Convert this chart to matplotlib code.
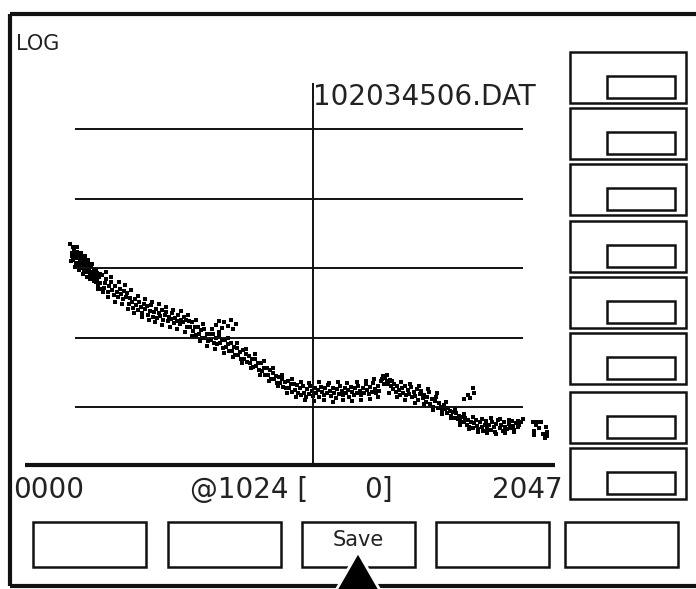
import matplotlib
matplotlib.use('Agg')
import matplotlib.pyplot as plt
from matplotlib.patches import Rectangle, Polygon

# spectrum: channel number and log10(counts)
kanal = [
    0, 8, 10, 12, 16, 18, 20, 24, 26, 28, 32, 34, 36, 40, 42, 44, 48, 50, 52, 56,
    58, 60, 64, 66, 68, 72, 74, 76, 80, 82, 84, 88, 90, 92, 96, 98, 100, 104, 108, 112,
    116, 120, 124, 128, 132,
    136, 142, 147, 153, 160, 166, 171, 178, 184, 190, 197, 203, 209, 216, 222, 229, 235, 241,
    248, 254, 260, 266, 273, 279, 285, 292, 298, 304, 311, 317, 323, 330, 336, 342, 349, 355,
    361, 368, 374, 380, 387, 393, 399, 406, 412, 418, 425, 431, 437, 444, 450, 456, 463, 469,
    475, 482,
    488, 494, 501, 507, 513, 520, 526, 532, 539, 545, 551, 558, 564, 570, 577, 583, 589, 596,
    602, 608, 615, 621, 627, 634, 640, 646, 653, 659, 665, 672, 678, 684, 691, 697, 703, 710,
    716, 722, 729, 735, 741, 748, 754, 760, 767, 773, 779, 786, 792, 798, 805, 811, 817, 824,
    830, 836, 843, 849, 855, 862, 868, 874, 881, 887, 893, 900, 906, 912, 919, 925, 931, 938,
    944, 950, 957, 963,
    615, 628, 640, 652, 665, 678, 690, 700,
    970, 976, 983, 989, 995, 1002, 1008, 1014, 1021, 1027, 1033, 1040, 1046, 1052, 1059, 1065,
    1071, 1078, 1084, 1090, 1097, 1103, 1109, 1116, 1122, 1128, 1135, 1141, 1147, 1154, 1160,
    1166, 1173, 1179, 1185, 1192, 1198, 1204, 1211, 1217, 1223, 1230, 1236, 1242, 1249, 1255,
    1261, 1268, 1274, 1280, 1287, 1293, 1299, 1306, 1312, 1318, 1325, 1331, 1337, 1344, 1350,
    1356,
    1363, 1369, 1375, 1382, 1388, 1394, 1401, 1407, 1413, 1420, 1426, 1432, 1439, 1445, 1451,
    1458, 1464, 1470, 1477, 1483, 1489, 1496, 1502, 1508, 1515, 1521, 1527, 1534, 1540, 1546,
    1553, 1559, 1565, 1572, 1578, 1584, 1591, 1597,
    1665, 1678, 1690, 1702, 1706,
    1604, 1610, 1617, 1623, 1629, 1636, 1642, 1648, 1655, 1661, 1667, 1674, 1680, 1686, 1693,
    1699, 1705, 1712, 1718, 1724, 1731, 1737, 1743, 1750, 1756, 1762, 1769, 1775, 1781, 1788,
    1794, 1800, 1807, 1813, 1819, 1826, 1832, 1838, 1845, 1851, 1857, 1864, 1870, 1876, 1883,
    1889, 1895, 1902, 1910,
    1954, 1958, 1960, 1966, 1972, 1980, 1990, 1995, 2003, 2008, 2012, 2015,
]
log_cnt = [
    3.35, 3.22, 3.18, 3.12, 3.28, 3.24, 3.18, 3.08, 3.14, 3.24, 3.14, 3.20, 3.04, 3.20, 3.05, 3.10,
    3.00, 3.12, 3.16, 3.06, 3.00, 2.96, 3.12, 3.06, 3.02, 2.94, 2.98, 3.08, 2.98, 3.02, 2.90, 3.04,
    2.92, 2.95, 2.86, 2.94, 2.99, 2.90, 2.80, 2.93, 2.84, 2.76, 2.88, 2.79, 2.70,
    2.90, 2.71, 2.79, 2.85, 2.66, 2.74, 2.80, 2.69, 2.61, 2.75, 2.66, 2.58, 2.70, 2.63, 2.55, 2.67,
    2.59, 2.64, 2.49, 2.57, 2.52, 2.43, 2.55, 2.47, 2.40, 2.51, 2.44, 2.36, 2.48, 2.41, 2.45, 2.33,
    2.39, 2.47, 2.30, 2.37, 2.42, 2.28, 2.35, 2.31, 2.40, 2.26, 2.33, 2.37, 2.24, 2.30, 2.27, 2.36,
    2.21, 2.28, 2.24, 2.33, 2.19, 2.26, 2.22, 2.30,
    2.25, 2.15, 2.24, 2.15, 2.23, 2.09, 2.15, 2.04, 2.16, 2.06, 2.11, 2.00, 2.12, 2.00, 2.05, 1.95,
    2.06, 1.97, 2.05, 1.92, 2.00, 1.91, 2.02, 1.92, 1.97, 1.85, 1.96, 1.86, 1.91, 1.81, 1.92, 1.81,
    1.87, 1.75, 1.85, 1.75, 1.80, 1.70, 1.82, 1.70, 1.76, 1.65, 1.74, 1.64, 1.69, 1.58, 1.69, 1.59,
    1.64, 1.54, 1.64, 1.52, 1.56, 1.47, 1.56, 1.47, 1.54, 1.40, 1.49, 1.40, 1.45, 1.35, 1.44, 1.35,
    1.40, 1.29, 1.36, 1.28, 1.38, 1.27, 1.33, 1.22, 1.34, 1.25, 1.32, 1.21,
    2.18, 2.24, 2.14, 2.22, 2.17, 2.26, 2.13, 2.20,
    1.27, 1.18, 1.30, 1.21, 1.15, 1.26, 1.19, 1.31, 1.23, 1.16, 1.28, 1.20, 1.25, 1.14, 1.29, 1.22,
    1.17, 1.27, 1.20, 1.32, 1.24, 1.16, 1.28, 1.21, 1.13, 1.26, 1.19, 1.30, 1.23, 1.17, 1.27,
    1.20, 1.25, 1.15, 1.29, 1.22, 1.18, 1.28, 1.21, 1.31, 1.24, 1.17, 1.27, 1.20, 1.33, 1.25,
    1.19, 1.29, 1.22, 1.35, 1.26, 1.20, 1.30, 1.24, 1.37, 1.40, 1.34, 1.42, 1.38, 1.33, 1.39,
    1.30,
    1.26, 1.33, 1.22, 1.30, 1.25, 1.18, 1.28, 1.21, 1.31, 1.17, 1.25, 1.19, 1.29, 1.14, 1.22,
    1.16, 1.26, 1.11, 1.19, 1.24, 1.13, 1.18, 1.08, 1.15, 1.22, 1.05, 1.12, 1.01, 1.09, 1.14,
    0.99, 1.06, 1.01, 0.95, 1.03, 0.97, 0.92, 0.99,
    1.12, 1.18, 1.13, 1.27, 1.20,
    0.95, 0.88, 0.93, 0.85, 0.91, 0.83, 0.88, 0.80, 0.86, 0.78, 0.84, 0.75, 0.81, 0.72, 0.79,
    0.70, 0.77, 0.82, 0.73, 0.68, 0.78, 0.71, 0.66, 0.75, 0.80, 0.69, 0.74, 0.67, 0.78, 0.71,
    0.65, 0.76, 0.81, 0.70, 0.74, 0.66, 0.79, 0.72, 0.68, 0.76, 0.70, 0.80, 0.73, 0.67, 0.77,
    0.71, 0.74, 0.79, 0.83,
    0.78, 0.66, 0.60, 0.74, 0.79, 0.70, 0.78, 0.62, 0.55, 0.72, 0.65, 0.58,
]

# outlying points on both edges of the band
kanal_rob = [
    6, 14, 22, 30, 38, 46, 54, 62, 70, 78, 86, 94, 102, 110, 118, 126,
    140, 150, 162, 175, 188, 205, 218, 232, 245, 258, 270, 288, 302, 315, 333, 346, 360, 376,
    390, 404, 420, 436, 452, 468, 485,
    500, 515, 530, 548, 562, 580, 598, 612, 630, 648, 668, 686, 706, 725, 744, 763, 782, 800,
    820, 840, 858, 878, 896, 915, 935, 955,
    975, 992, 1010, 1030, 1050, 1070, 1093, 1112, 1132, 1152, 1170, 1190, 1210, 1228, 1248,
    1266, 1285, 1302, 1322, 1340, 1345,
    1360, 1380, 1398, 1416, 1436, 1455, 1474, 1492, 1512, 1530, 1550, 1568, 1588,
    1608, 1626, 1646, 1664, 1682, 1700, 1720, 1740, 1760, 1778, 1798, 1816, 1836, 1854, 1872, 1892,
]
log_rob = [
    3.10, 3.30, 3.02, 3.30, 2.98, 3.22, 2.92, 3.18, 2.88, 3.12, 2.84, 3.06, 2.82, 2.98, 2.70, 2.92,
    2.66, 2.95, 2.58, 2.87, 2.52, 2.80, 2.48, 2.76, 2.42, 2.68, 2.36, 2.60, 2.30, 2.56, 2.26,
    2.52, 2.22, 2.48, 2.18, 2.44, 2.15, 2.40, 2.12, 2.38, 2.08,
    2.32, 2.02, 2.26, 1.95, 2.20, 1.88, 2.12, 1.84, 2.08, 1.78, 2.00, 1.72, 1.93, 1.64, 1.84,
    1.56, 1.76, 1.47, 1.66, 1.38, 1.56, 1.30, 1.46, 1.20, 1.40, 1.14,
    1.36, 1.10, 1.35, 1.09, 1.36, 1.10, 1.35, 1.08, 1.36, 1.10, 1.35, 1.09, 1.36, 1.11, 1.38,
    1.12, 1.40, 1.14, 1.45, 1.46, 1.20,
    1.38, 1.14, 1.36, 1.10, 1.34, 1.06, 1.30, 1.04, 1.26, 0.96, 1.20, 0.90, 1.08,
    0.84, 0.97, 0.74, 0.90, 0.68, 0.86, 0.64, 0.83, 0.63, 0.84, 0.62, 0.83, 0.63, 0.82, 0.64, 0.80,
]

mreza = [1, 2, 3, 4, 5]          # decade lines
kurzor = 1024
kurzor_vrednost = 0
datoteka = '102034506.DAT'
oznake_x = ['0000', '2047']
gumbi_spodaj = ['', '', 'Save', '', '']

W, H = 696, 589
fig = plt.figure(figsize=(W / 100, H / 100), dpi=100)
fig.patch.set_facecolor('white')

# screen layer in pixel units
ui = fig.add_axes([0, 0, 1, 1])
ui.set_xlim(0, W)
ui.set_ylim(H, 0)
ui.axis('off')

# data layer: channel 0..2047 -> px 70..555, one decade = 69.5 px
ax = fig.add_axes([0, 0, 1, 1])
ax.patch.set_alpha(0)
ax.axis('off')
ppc = 485 / 2047
ax.set_xlim(-70 / ppc, (W - 70) / ppc)
ax.set_ylim((476.7 - H) / 69.5, 476.7 / 69.5)

crna = '#111111'
tekst = '#222222'

# outer frame
ui.plot([10, W], [14, 14], color=crna, lw=3, solid_capstyle='butt')
ui.plot([10, 10], [14, 586], color=crna, lw=3, solid_capstyle='butt')
ui.plot([10, W], [586, 586], color=crna, lw=3, solid_capstyle='butt')

ui.text(16, 50, 'LOG', fontsize=15, color=tekst, va='baseline', ha='left')

# grid and cursor
ax.hlines(mreza, 21, 1912, color=crna, lw=1.4)
ax.vlines(kurzor, 0.16, 5.66, color=crna, lw=1.4)
ax.text(kurzor + 2, 5.66, datoteka, fontsize=20, color=tekst, va='top', ha='left')

# spectrum points
ax.scatter(kanal, log_cnt, s=6, marker='s', color='black', linewidths=0)
ax.scatter(kanal_rob, log_rob, s=6, marker='s', color='black', linewidths=0)

# baseline and labels
ui.plot([25, 555], [465, 465], color=crna, lw=3, solid_capstyle='butt')
ui.text(13, 498, oznake_x[0], fontsize=20, color=tekst, va='baseline', ha='left')
ui.text(563, 498, oznake_x[1], fontsize=20, color=tekst, va='baseline', ha='right')
ui.text(190, 498, '@%d [' % kurzor, fontsize=20, color=tekst, va='baseline', ha='left')
ui.text(393, 498, '%d]' % kurzor_vrednost, fontsize=20, color=tekst, va='baseline', ha='right')

# right column of buttons
vrhovi = [52, 108, 164, 221, 277, 333, 392, 448]
for v in vrhovi:
    ui.add_patch(Rectangle((570, v), 116, 51, fill=False, ec=crna, lw=1.8))
    ui.add_patch(Rectangle((607, v + 24), 68, 22, fill=False, ec=crna, lw=1.8))

# bottom row of buttons
levo = [33, 168, 302, 436, 565]
for x0, ime in zip(levo, gumbi_spodaj):
    ui.add_patch(Rectangle((x0, 522), 113, 45, fill=False, ec=crna, lw=1.8))
    if ime:
        ui.text(x0 + 56, 540, ime, fontsize=15, color=tekst, va='center', ha='center')

# pointer under the active button
ui.add_patch(Polygon([(358, 552), (335, 592), (381, 592)], closed=True,
                     fc='black', ec='white', lw=2, zorder=5))

fig.savefig('out.png', dpi=100)
